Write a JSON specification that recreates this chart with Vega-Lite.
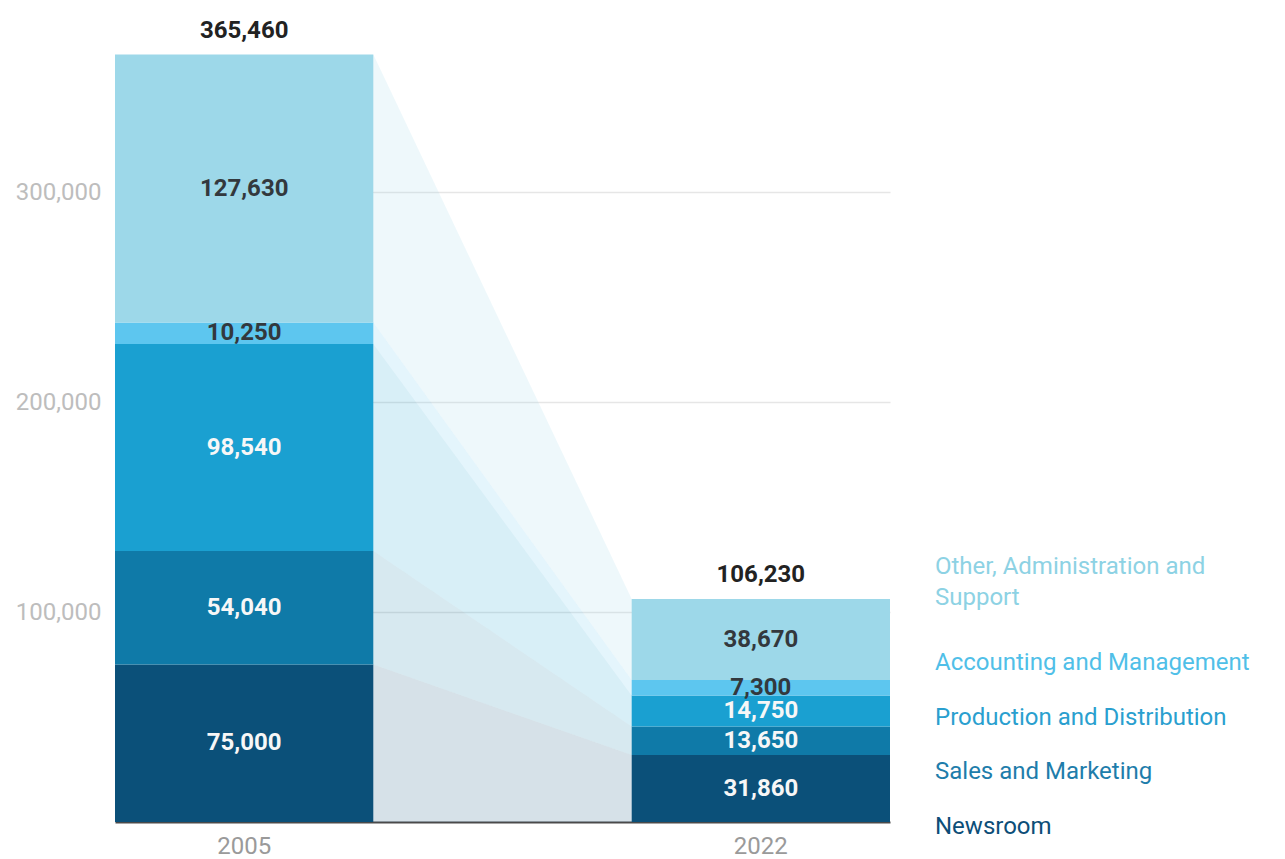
{
  "$schema": "https://vega.github.io/schema/vega-lite/v6.json",
  "width": 775,
  "height": 798,
  "autosize": {"type": "none"},
  "padding": {"left": 115, "top": 24, "right": 395, "bottom": 37},
  "background": "white",
  "config": {"view": {"stroke": null}, "font": "Roboto", "text": {"font": "Roboto"}, "axis": {"labelFont": "Roboto"}},
  "data": {
    "values": [
      {"year": "2005", "category": "Newsroom", "value": 75000},
      {"year": "2005", "category": "Sales and Marketing", "value": 54040},
      {"year": "2005", "category": "Production and Distribution", "value": 98540},
      {"year": "2005", "category": "Accounting and Management", "value": 10250},
      {"year": "2005", "category": "Other, Administration and Support", "value": 127630},
      {"year": "2022", "category": "Newsroom", "value": 31860},
      {"year": "2022", "category": "Sales and Marketing", "value": 13650},
      {"year": "2022", "category": "Production and Distribution", "value": 14750},
      {"year": "2022", "category": "Accounting and Management", "value": 7300},
      {"year": "2022", "category": "Other, Administration and Support", "value": 38670}
    ]
  },
  "transform": [
    {"calculate": "indexof(['Newsroom','Sales and Marketing','Production and Distribution','Accounting and Management','Other, Administration and Support'], datum.category)", "as": "stackOrder"}
  ],
  "layer": [
    {
      "layer": [
        {
          "mark": {"type": "bar"},
          "encoding": {
            "x": {"field": "year", "type": "nominal", "scale": {"type": "band", "paddingInner": 0.5, "paddingOuter": 0},
              "axis": {"title": null, "labelAngle": 0, "labelFontSize": 24, "labelColor": "#9a9a9a", "ticks": false, "domainColor": "#4a4a4a", "domainWidth": 2, "labelPadding": 12}},
            "y": {"field": "value", "type": "quantitative", "stack": "zero", "scale": {"domain": [0, 380000], "nice": false},
              "axis": {"title": null, "values": [100000, 200000, 300000], "labelExpr": "format(datum.value, ',')", "grid": true, "gridColor": "#e6e6e6", "gridWidth": 1.5, "domain": false, "ticks": false, "labelFontSize": 24, "labelColor": "#bdbdbd", "labelPadding": 14}},
            "color": {"field": "category", "type": "nominal", "legend": null,
              "scale": {"domain": ["Newsroom", "Sales and Marketing", "Production and Distribution", "Accounting and Management", "Other, Administration and Support"],
                "range": ["#0b5079", "#0f7aa8", "#1aa0d1", "#5dc6ef", "#9dd8e9"]}},
            "order": {"field": "stackOrder", "type": "quantitative"}
          }
        },
        {
          "mark": {"type": "text", "fontSize": 24, "fontWeight": "bold", "baseline": "middle", "align": "center"},
          "encoding": {
            "x": {"field": "year", "type": "nominal"},
            "y": {"field": "value", "type": "quantitative", "stack": "zero", "bandPosition": 0.5},
            "detail": {"field": "category"},
            "order": {"field": "stackOrder", "type": "quantitative"},
            "text": {"field": "value", "type": "quantitative", "format": ","},
            "color": {"condition": {"test": "datum.category === 'Other, Administration and Support' || datum.category === 'Accounting and Management'", "value": "#33383d"}, "value": "#f7f7f7"}
          }
        },
        {
          "transform": [{"aggregate": [{"op": "sum", "field": "value", "as": "total"}], "groupby": ["year"]}],
          "mark": {"type": "text", "fontSize": 24, "fontWeight": "bold", "baseline": "middle", "align": "center", "dy": -24, "color": "#222222"},
          "encoding": {
            "x": {"field": "year", "type": "nominal"},
            "y": {"field": "total", "type": "quantitative"},
            "text": {"field": "total", "type": "quantitative", "format": ","}
          }
        }
      ]
    },
    {
      "mark": {"type": "area", "opacity": 0.17},
      "encoding": {
        "x": {"field": "year", "type": "ordinal", "scale": {"type": "point", "padding": 1, "domain": ["2005", "2022"]}, "axis": null},
        "y": {"field": "value", "type": "quantitative", "stack": "zero", "scale": {"domain": [0, 380000], "nice": false}, "axis": null},
        "color": {"field": "category", "type": "nominal", "legend": null,
          "scale": {"domain": ["Newsroom", "Sales and Marketing", "Production and Distribution", "Accounting and Management", "Other, Administration and Support"],
            "range": ["#0b5079", "#0f7aa8", "#1aa0d1", "#5dc6ef", "#9dd8e9"]}},
        "order": {"field": "stackOrder", "type": "quantitative"}
      }
    },
    {
      "transform": [{"filter": "datum.year === '2022' && datum.category !== 'Other, Administration and Support'"}],
      "mark": {"type": "text", "fontSize": 24, "align": "left", "baseline": "middle", "dx": 45, "dy": 5},
      "encoding": {
        "x": {"field": "year", "type": "nominal", "bandPosition": 1, "scale": {"type": "band", "domain": ["2005", "2022"], "paddingInner": 0.5, "paddingOuter": 0}, "axis": null},
        "y": {"field": "stackOrder", "type": "quantitative", "scale": {"domain": [0, 14.64], "nice": false, "zero": false}, "axis": null},
        "color": {"field": "category", "type": "nominal", "legend": null,
          "scale": {"domain": ["Newsroom", "Sales and Marketing", "Production and Distribution", "Accounting and Management", "Other, Administration and Support"],
            "range": ["#0d4e78", "#1e7dab", "#2a9fcf", "#50bfe8", "#8dd2e4"]}},
        "text": {"field": "category", "type": "nominal"}
      }
    },
    {
      "transform": [{"filter": "datum.year === '2022' && datum.category === 'Other, Administration and Support'"}],
      "mark": {"type": "text", "fontSize": 24, "align": "left", "baseline": "bottom", "lineHeight": 31, "dx": 45, "dy": -25, "color": "#8dd2e4"},
      "encoding": {
        "x": {"field": "year", "type": "nominal", "bandPosition": 1, "scale": {"type": "band", "domain": ["2005", "2022"], "paddingInner": 0.5, "paddingOuter": 0}, "axis": null},
        "y": {"field": "stackOrder", "type": "quantitative", "scale": {"domain": [0, 14.64], "nice": false, "zero": false}, "axis": null},
        "text": {"value": ["Other, Administration and", "Support"]}
      }
    }
  ],
  "resolve": {"scale": {"x": "independent", "y": "independent", "color": "independent"}}
}
